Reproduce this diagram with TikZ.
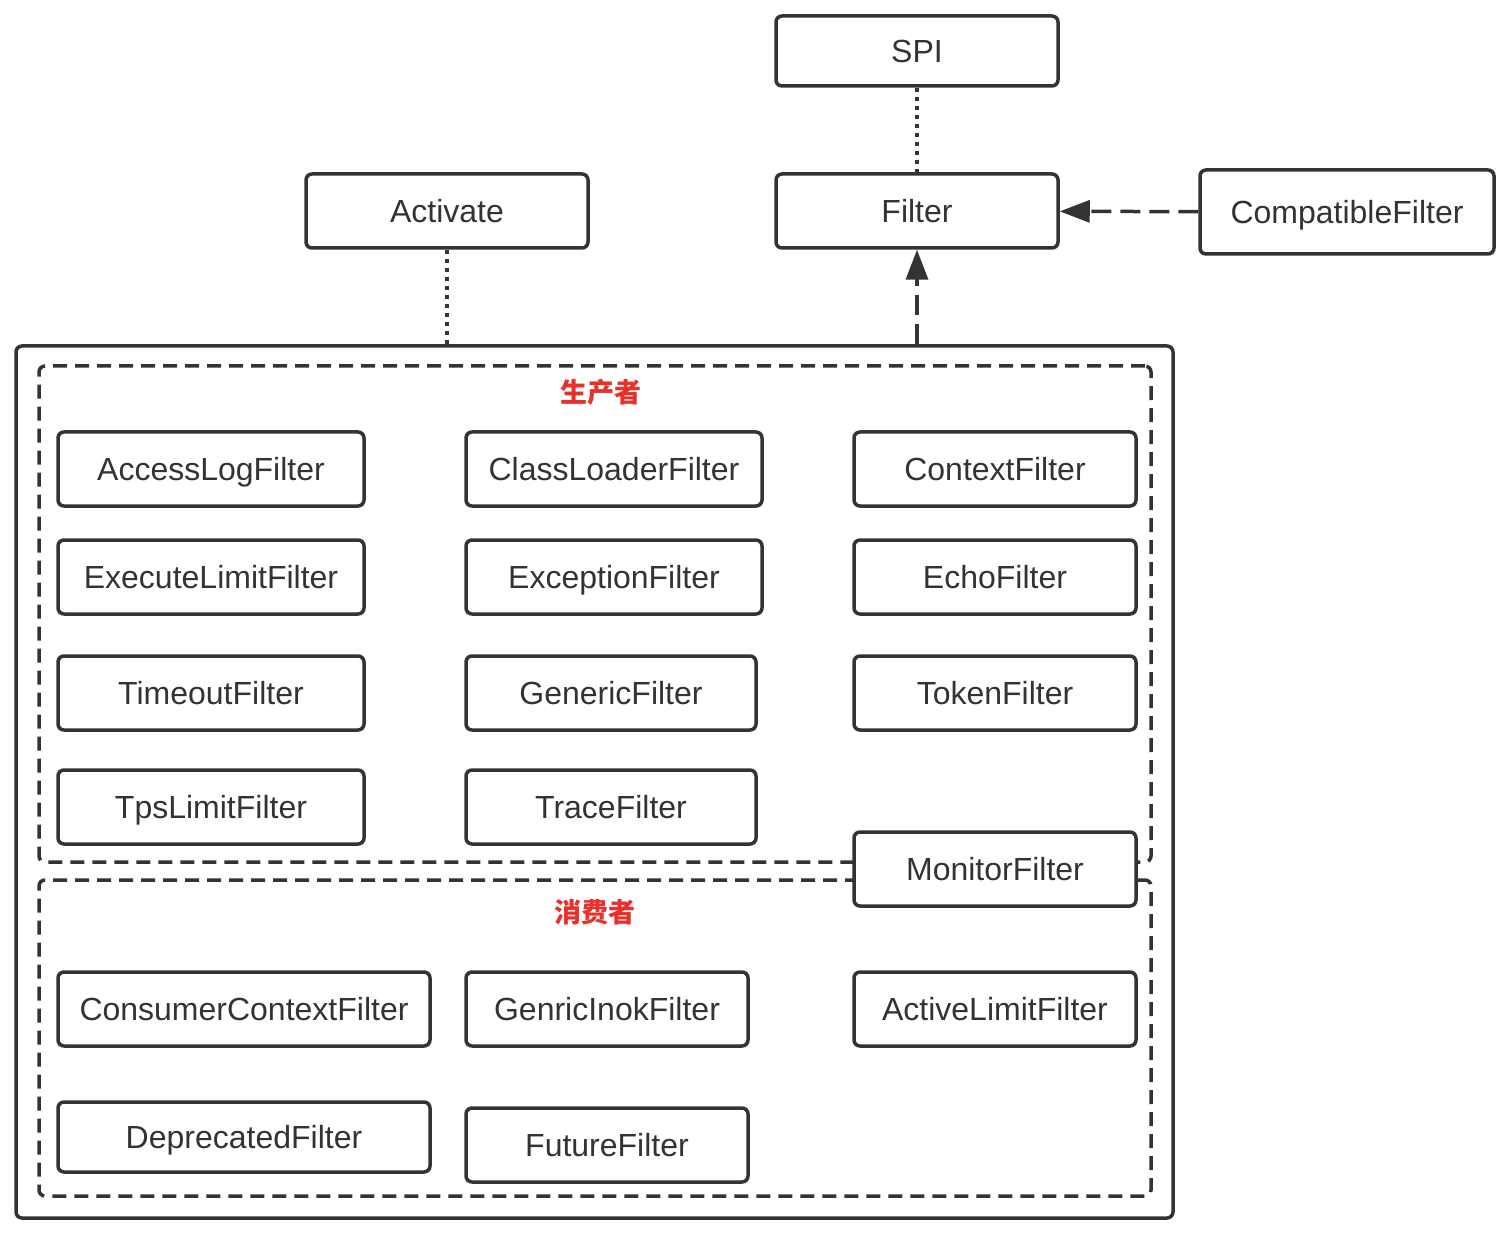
\documentclass[tikz,border=0pt]{standalone}
\usepackage{fontspec}
\setmainfont{Liberation Sans}
\newfontfamily\cjk{Noto Sans CJK SC}
\usetikzlibrary{arrows.meta}
\definecolor{ink}{HTML}{333333}
\definecolor{tagred}{HTML}{E8312A}
\tikzset{
  fbox/.style={draw=ink, text=ink, fill=white, line width=3.5pt, rounded corners=6pt,
    minimum width=282pt, minimum height=74pt, inner sep=0pt,
    text height=22.5pt, text depth=0pt,
    font=\fontsize{32}{36}\selectfont},
  area/.style={draw=ink, line width=3.5pt, rounded corners=6pt, inner sep=0pt,
    dash pattern=on 14pt off 8pt},
  tag/.style={text=tagred, font=\cjk\fontsize{27}{30}\selectfont\bfseries},
  dot/.style={draw=ink, line width=3.5pt, dash pattern=on 4pt off 5pt},
  dsh/.style={draw=ink, line width=3.5pt, dash pattern=on 20pt off 9pt,
    -{Triangle[length=30pt,width=22pt]}}
}
\begin{document}
\begin{tikzpicture}[x=1pt,y=-1pt]
\useasboundingbox (0,0) rectangle (1508,1238);
% outer frame and the two groups
\node[draw=ink, line width=3.5pt, rounded corners=6pt, minimum width=1157pt, minimum height=872pt, inner sep=0pt] (outer) at (594.5,782) {};
\node[area, minimum width=1112pt, minimum height=496pt] (prod) at (595,614) {};
\node[area, minimum width=1112pt, minimum height=316pt] (cons) at (595,1038) {};
\node[tag] (ptag) at (601,392) {生产者};
\node[tag] (ctag) at (595,912) {消费者};
% top
\node[fbox, minimum height=70pt] (spi) at (917,51) {SPI};
\node[fbox] (act) at (447,211) {Activate};
\node[fbox] (filter) at (917,211) {Filter};
\node[fbox, minimum width=294pt, minimum height=84pt] (compat) at (1347,212) {CompatibleFilter};
% producer
\node[fbox, minimum width=306pt] (access) at (211,469) {AccessLogFilter};
\node[fbox, minimum width=296pt] (loader) at (614,469) {ClassLoaderFilter};
\node[fbox] (context) at (995,469) {ContextFilter};
\node[fbox, minimum width=306pt] (execute) at (211,577) {ExecuteLimitFilter};
\node[fbox, minimum width=296pt] (exception) at (614,577) {ExceptionFilter};
\node[fbox] (echo) at (995,577) {EchoFilter};
\node[fbox, minimum width=306pt] (timeout) at (211,693) {TimeoutFilter};
\node[fbox, minimum width=290pt] (generic) at (611,693) {GenericFilter};
\node[fbox] (token) at (995,693) {TokenFilter};
\node[fbox, minimum width=306pt] (tps) at (211,807) {TpsLimitFilter};
\node[fbox, minimum width=290pt] (trace) at (611,807) {TraceFilter};
\node[fbox] (monitor) at (995,869) {MonitorFilter};
% consumer
\node[fbox, minimum width=372pt] (cctx) at (244,1009) {ConsumerContextFilter};
\node[fbox] (invoke) at (607,1009) {GenricInokFilter};
\node[fbox] (active) at (995,1009) {ActiveLimitFilter};
\node[fbox, minimum width=372pt, minimum height=70pt] (deprecated) at (244,1137) {DeprecatedFilter};
\node[fbox] (future) at (607,1145) {FutureFilter};
% links
\path[dot] (spi) -- (filter);
\path[dot] (act) -- (act |- outer.north);
\path[dsh] (filter |- outer.north) -- (filter);
\path[dsh] (compat) -- (filter);
\end{tikzpicture}
\end{document}
